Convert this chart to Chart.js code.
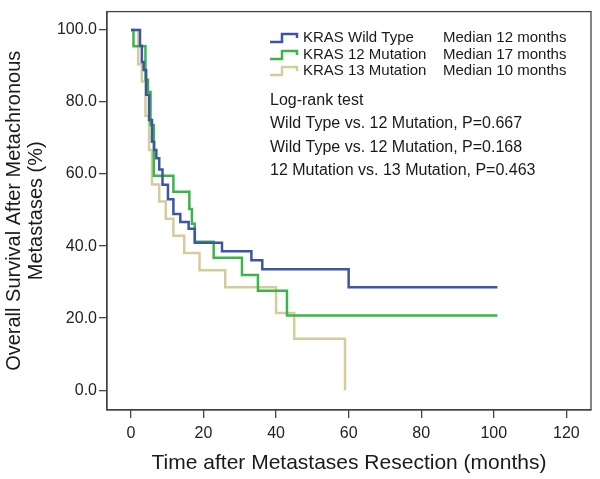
<!DOCTYPE html>
<html>
<head>
<meta charset="utf-8">
<script src="https://cdn.jsdelivr.net/npm/chart.js@4.4.1/dist/chart.umd.min.js"></script>
<style>
  html, body { margin: 0; padding: 0; background: #fff; }
  #wrap { width: 600px; height: 479px; }
</style>
</head>
<body>
<div id="wrap"><canvas id="km"></canvas></div>
<script>
// Kaplan-Meier steps: [months, survival %]
const wildTime = [0, 2.5, 3, 3.5, 4.2, 5, 5.8, 6.4, 7, 7.8, 8.7, 10.2, 11.7, 13.6, 15.9, 17.6, 25.1, 33.2, 36.2, 60, 101];
const wildSurv = [100, 95.6, 91.1, 88.9, 82, 75, 69, 66.7, 64.4, 61.3, 57, 53, 48.9, 46.7, 44.8, 40.9, 38.6, 36.1, 33.6, 28.6, 28.6];

const mut12Time = [0, 0.7, 4, 4.7, 5.4, 6.3, 11.7, 16.1, 16.8, 17.6, 22.8, 30.6, 35, 43, 101];
const mut12Surv = [100, 95.5, 86.2, 82.8, 73.6, 59.5, 55.1, 50.3, 46.2, 41.2, 36.8, 32.0, 27.6, 20.7, 20.7];

const mut13Time = [0, 2, 3, 4, 5, 5.8, 7.8, 9.6, 11.7, 14.7, 18.9, 26, 40, 45, 59];
const mut13Surv = [100, 90.5, 85.7, 76.2, 66.7, 57.1, 52.4, 47.6, 42.9, 38.1, 33.3, 28.6, 21.4, 14.3, 0];

const groupNames = ['KRAS Wild Type', 'KRAS 12 Mutation', 'KRAS 13 Mutation'];
const medians = ['Median 12 months', 'Median 17 months', 'Median 10 months'];
const logRank = [
  'Log-rank test',
  'Wild Type vs. 12 Mutation, P=0.667',
  'Wild Type vs. 12 Mutation, P=0.168',
  '12 Mutation vs. 13 Mutation, P=0.463'
];

const xTicks = [0, 20, 40, 60, 80, 100, 120];
const yTicks = [0, 20, 40, 60, 80, 100];

const colors = ['#3d55a5', '#3bb54a', '#d3cd9a'];
const FONT = 'Arial, "Liberation Sans", sans-serif';

function toPoints(ts, ss) {
  return ts.map((t, i) => ({ x: t, y: ss[i] }));
}

// box round the plot and the legend/notes in the upper right
const extras = {
  id: 'extras',
  afterDraw(chart) {
    const ctx = chart.ctx;
    const a = chart.chartArea;
    ctx.save();
    ctx.strokeStyle = '#444';
    ctx.lineWidth = 1.3;
    ctx.strokeRect(a.left, a.top, a.right - a.left, a.bottom - a.top);

    ctx.font = '15px ' + FONT;
    ctx.fillStyle = '#1a1a1a';
    ctx.textBaseline = 'middle';
    const rows = [38, 55, 71];
    groupNames.forEach((name, i) => {
      const y = rows[i];
      ctx.strokeStyle = colors[i];
      ctx.lineWidth = 2.5;
      ctx.beginPath();
      ctx.moveTo(270, y + 4);
      ctx.lineTo(282, y + 4);
      ctx.lineTo(282, y - 4);
      ctx.lineTo(297, y - 4);
      ctx.lineTo(297, y);
      ctx.stroke();
      ctx.fillText(name, 303, y);
      ctx.fillText(medians[i], 443, y);
    });

    ctx.font = '16px ' + FONT;
    const noteRows = [101, 124, 148, 171];
    logRank.forEach((line, i) => ctx.fillText(line, 270, noteRows[i]));
    ctx.restore();
  }
};

new Chart(document.getElementById('km'), {
  type: 'line',
  data: {
    datasets: [
      { label: groupNames[0], data: toPoints(wildTime, wildSurv), borderColor: colors[0] },
      { label: groupNames[1], data: toPoints(mut12Time, mut12Surv), borderColor: colors[1] },
      { label: groupNames[2], data: toPoints(mut13Time, mut13Surv), borderColor: colors[2] }
    ].map(d => Object.assign(d, {
      stepped: true,
      borderWidth: 2.5,
      pointRadius: 0,
      fill: false,
      tension: 0
    }))
  },
  options: {
    responsive: true,
    maintainAspectRatio: false,
    animation: false,
    layout: { padding: { top: 7, right: 9, left: 0, bottom: 0 } },
    plugins: {
      legend: { display: false },
      tooltip: { enabled: false }
    },
    scales: {
      x: {
        type: 'linear',
        min: -6.6,
        max: 126.8,
        afterBuildTicks: axis => { axis.ticks = xTicks.map(v => ({ value: v })); },
        afterFit: axis => { axis.height = 69; },
        ticks: { color: '#222', font: { size: 16, family: FONT }, padding: 6, maxRotation: 0 },
        grid: { drawOnChartArea: false, drawTicks: true, tickLength: 8, color: '#444', lineWidth: 1.3 },
        border: { display: true, color: '#444', width: 1.3 },
        title: {
          display: true,
          text: 'Time after Metastases Resection (months)',
          color: '#1a1a1a',
          font: { size: 21, family: FONT },
          padding: { top: 0, bottom: 3 }
        }
      },
      y: {
        type: 'linear',
        min: -5.5,
        max: 105.1,
        afterBuildTicks: axis => { axis.ticks = yTicks.map(v => ({ value: v })); },
        afterFit: axis => { axis.width = 107; },
        ticks: {
          color: '#222',
          font: { size: 16, family: FONT },
          padding: 2,
          callback: v => v.toFixed(1)
        },
        grid: { drawOnChartArea: false, drawTicks: true, tickLength: 8, color: '#444', lineWidth: 1.3 },
        border: { display: true, color: '#444', width: 1.3 },
        title: {
          display: true,
          text: ['Overall Survival After Metachronous', 'Metastases (%)'],
          color: '#1a1a1a',
          font: { size: 20, family: FONT, lineHeight: 1.1 },
          padding: { top: 3, bottom: 0 }
        }
      }
    }
  },
  plugins: [extras]
});
</script>
</body>
</html>
